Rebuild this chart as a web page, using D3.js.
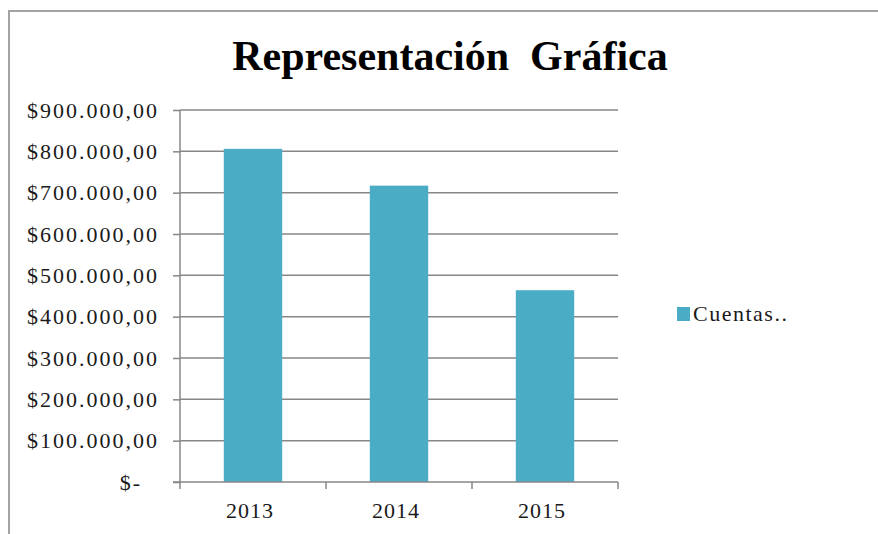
<!DOCTYPE html>
<html>
<head>
<meta charset="utf-8">
<script src="https://cdn.jsdelivr.net/npm/d3@7"></script>
<style>
  body { margin: 0; background: #fff; }
</style>
</head>
<body>
<div id="chart"></div>
<script>
// data
const years = ["2013", "2014", "2015"];
const cuentas = [806000, 717000, 464000];
const yTicks = [0, 100000, 200000, 300000, 400000, 500000, 600000, 700000, 800000, 900000];
const seriesName = "Cuentas..";
const title = "Representación  Gráfica";

function chart() {
    const overall_width = 878
    const overall_height = 534
    const plot = {l: 180, r: 618, t: 110, b: 482}
    const barColor = "#4BACC6"
    const lineColor = "#878787"
    const textColor = "#1a1a1a"
    const serif = "'Liberation Serif', 'Times New Roman', serif"

    let svg = d3.select("#chart")
        .append("svg")
        .attr("width", overall_width)
        .attr("height", overall_height)
        .attr("font-family", serif);

    svg.append("rect")
        .attr("width", "100%")
        .attr("height", "100%")
        .attr("fill", "#fff");

    //outer chart border (only top and left visible in the crop)
    svg.append("path")
        .attr("d", `M9,${overall_height} V11 H${overall_width}`)
        .attr("fill", "none")
        .attr("stroke", "#a3a3a3")
        .attr("stroke-width", 2);

    //title
    svg.append("text")
        .attr("x", 450)
        .attr("y", 70)
        .attr("text-anchor", "middle")
        .attr("font-family", serif)
        .attr("font-size", 42)
        .attr("font-weight", 700)
        .attr("fill", "#000")
        .style("white-space", "pre")
        .text(title);

    //scales
    const p = 0.6;
    let scaleX = d3.scaleBand()
        .domain(years)
        .range([plot.l, plot.r])
        .paddingInner(p)
        .paddingOuter(p / 2);
    let scaleY = d3.scaleLinear()
        .domain([0, 900000])
        .range([plot.b, plot.t]);

    const locale = d3.formatLocale({
        decimal: ",",
        thousands: ".",
        grouping: [3],
        currency: ["$", ""]
    });
    const money = locale.format("$,.2f");

    //gridlines
    svg.append("g")
        .selectAll("line")
        .data(yTicks.filter(d => d > 0))
        .join("line")
        .attr("x1", plot.l)
        .attr("x2", plot.r)
        .attr("y1", d => scaleY(d))
        .attr("y2", d => scaleY(d))
        .attr("stroke", lineColor)
        .attr("stroke-width", 1.5);

    //y axis
    let yAxis = svg.append("g")
        .attr("transform", `translate(${plot.l},0)`)
        .call(d3.axisLeft(scaleY)
            .tickValues(yTicks)
            .tickSize(7)
            .tickPadding(14)
            .tickFormat(d => d === 0 ? "$-" : money(d)));
    yAxis.attr("font-family", serif).attr("font-size", 22);
    yAxis.select(".domain")
        .attr("d", `M0,${plot.t}V${plot.b}`)
        .attr("stroke", lineColor)
        .attr("stroke-width", 1.5);
    yAxis.selectAll(".tick line")
        .attr("stroke", lineColor)
        .attr("stroke-width", 1.5);
    yAxis.selectAll(".tick text")
        .attr("letter-spacing", 2)
        .attr("fill", textColor)
        .attr("dx", d => d === 0 ? -17 : 0);

    //bars
    svg.append("g")
        .selectAll("rect")
        .data(cuentas)
        .join("rect")
        .attr("x", (d, i) => scaleX(years[i]))
        .attr("width", scaleX.bandwidth())
        .attr("y", d => scaleY(d))
        .attr("height", d => scaleY(0) - scaleY(d))
        .attr("fill", barColor);

    //x axis line and ticks at band edges
    let xAxis = svg.append("g");
    xAxis.append("line")
        .attr("x1", plot.l - 7)
        .attr("x2", plot.r)
        .attr("y1", plot.b)
        .attr("y2", plot.b)
        .attr("stroke", lineColor)
        .attr("stroke-width", 1.5);
    const edges = years.map(d => scaleX(d) - scaleX.step() * p / 2)
        .concat([plot.r]);
    xAxis.selectAll(".xtick")
        .data(edges)
        .join("line")
        .attr("class", "xtick")
        .attr("x1", d => d)
        .attr("x2", d => d)
        .attr("y1", plot.b)
        .attr("y2", plot.b + 7)
        .attr("stroke", lineColor)
        .attr("stroke-width", 1.5);
    xAxis.selectAll(".xlabel")
        .data(years)
        .join("text")
        .attr("class", "xlabel")
        .attr("x", d => scaleX(d) + scaleX.bandwidth() / 2 - 3)
        .attr("y", 518)
        .attr("text-anchor", "middle")
        .attr("font-family", serif)
        .attr("font-size", 22)
        .attr("letter-spacing", 1)
        .attr("fill", textColor)
        .text(d => d);

    //legend
    let legend = svg.append("g").attr("transform", "translate(677,307)");
    legend.append("rect")
        .attr("width", 13)
        .attr("height", 14)
        .attr("fill", barColor);
    legend.append("text")
        .attr("x", 16)
        .attr("y", 14)
        .attr("font-family", serif)
        .attr("font-size", 22)
        .attr("letter-spacing", 1.5)
        .attr("fill", textColor)
        .text(seriesName);
}
chart();
</script>
</body>
</html>
